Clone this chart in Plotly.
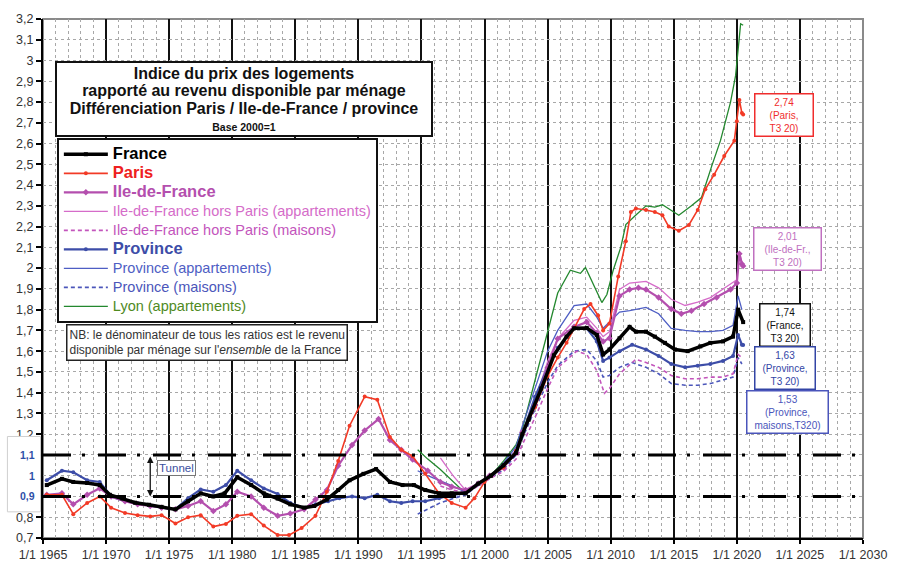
import plotly.graph_objects as go

FONT = "Liberation Sans, Arial, sans-serif"

# ---------------- data ----------------
france_x = [1965.3, 1966.5, 1967.4, 1968.5, 1969.5, 1970.3, 1971.3, 1972.3, 1973.4, 1974.4,
            1975.5, 1976.5, 1977.5, 1978.5, 1979.4, 1980.4, 1981.5, 1982.5, 1983.6, 1984.6,
            1985.7, 1986.5, 1987.5, 1988.4, 1989.3, 1990.4, 1991.4, 1992.5, 1993.5, 1994.4,
            1995.3, 1996.4, 1997.4, 1998.5, 1999.5, 2000.5, 2001.5, 2002.5, 2003.0, 2003.5,
            2004.5, 2005.5, 2006.5, 2007.1, 2008.1, 2008.9, 2009.4, 2009.9, 2010.7, 2011.5,
            2012.0, 2012.8, 2013.5, 2014.3, 2015.1, 2016.1, 2017.1, 2017.9, 2018.9, 2019.7,
            2020.1, 2020.5]
france_y = [0.955, 0.985, 0.97, 0.965, 0.955, 0.908, 0.89, 0.87, 0.86, 0.85,
            0.838, 0.877, 0.915, 0.90, 0.915, 0.993, 0.955, 0.915, 0.89, 0.862,
            0.846, 0.854, 0.885, 0.931, 0.978, 1.009, 1.032, 0.97, 0.955, 0.955,
            0.931, 0.915, 0.915, 0.915, 0.962, 1.0, 1.05, 1.11, 1.2, 1.27,
            1.42, 1.58, 1.67, 1.71, 1.712, 1.678, 1.584, 1.608, 1.662, 1.717,
            1.694, 1.694, 1.67, 1.64, 1.608, 1.60, 1.623, 1.64, 1.647, 1.67,
            1.80, 1.74]

paris_x = [1965.3, 1966.5, 1967.4, 1968.5, 1969.5, 1970.4, 1971.5, 1972.5, 1973.5, 1974.4,
           1975.5, 1976.5, 1977.5, 1978.5, 1979.5, 1980.4, 1981.5, 1982.5, 1983.6, 1984.5,
           1985.5, 1986.6, 1987.5, 1988.4, 1989.3, 1990.5, 1991.5, 1992.5, 1993.4, 1994.3,
           1995.3, 1996.4, 1997.4, 1998.5, 1999.2, 2000.0, 2000.5, 2001.5, 2002.5, 2003.0,
           2004.0, 2005.0, 2005.8, 2006.5, 2007.1, 2007.9, 2008.4, 2009.0, 2009.4, 2009.9,
           2010.6, 2011.2, 2011.6, 2012.0, 2012.8, 2013.5, 2014.1, 2014.6, 2015.4, 2016.2,
           2016.9, 2017.5, 2018.2, 2019.0, 2019.8, 2020.0, 2020.2, 2020.4, 2020.5]
paris_y = [0.908, 0.908, 0.815, 0.869, 0.90, 0.846, 0.82, 0.81, 0.804, 0.81,
           0.77, 0.80, 0.81, 0.755, 0.768, 0.807, 0.815, 0.76, 0.715, 0.714,
           0.748, 0.807, 0.923, 1.071, 1.241, 1.381, 1.366, 1.187, 1.125, 1.094,
           1.009, 0.915, 0.869, 0.846, 0.892, 0.97, 1.0, 1.04, 1.12, 1.2,
           1.33, 1.48, 1.569, 1.64, 1.71, 1.803, 1.827, 1.772, 1.70, 1.733,
           1.96, 2.13, 2.27, 2.287, 2.28, 2.27, 2.255, 2.2, 2.18, 2.208,
           2.28, 2.38, 2.45, 2.54, 2.614, 2.708, 2.81, 2.747, 2.74]

idf_x = [1965.3, 1966.5, 1967.4, 1968.5, 1969.5, 1970.4, 1971.5, 1972.5, 1973.5, 1974.4,
         1975.5, 1976.5, 1977.5, 1978.5, 1979.5, 1980.4, 1981.5, 1982.5, 1983.6, 1984.6,
         1985.7, 1986.6, 1987.5, 1988.4, 1989.5, 1990.5, 1991.6, 1992.5, 1993.4, 1994.3,
         1995.5, 1996.5, 1997.4, 1998.5, 1999.5, 2000.4, 2001.5, 2002.5, 2003.0, 2004.0,
         2005.0, 2005.8, 2007.1, 2008.1, 2008.9, 2009.4, 2009.9, 2010.7, 2011.5, 2012.2,
         2012.8, 2013.8, 2014.8, 2015.6, 2016.4, 2017.4, 2018.4, 2019.5, 2020.0, 2020.2,
         2020.4, 2020.5]
idf_y = [0.908, 0.915, 0.862, 0.908, 0.939, 0.90, 0.877, 0.862, 0.854, 0.846,
         0.838, 0.854, 0.877, 0.83, 0.862, 0.923, 0.90, 0.846, 0.807, 0.818,
         0.838, 0.885, 0.931, 1.048, 1.148, 1.218, 1.273, 1.172, 1.125, 1.078,
         1.024, 0.97, 0.947, 0.931, 0.962, 1.0, 1.04, 1.11, 1.209, 1.34,
         1.52, 1.66, 1.717, 1.74, 1.686, 1.647, 1.662, 1.866, 1.897, 1.905,
         1.897, 1.858, 1.803, 1.78, 1.795, 1.827, 1.858, 1.897, 1.928, 2.069,
         2.02, 2.01]

idf_appt_x = [1996.5, 1997.5, 1998.5, 1999.5, 2000.5, 2001.5, 2002.5, 2003.0, 2004.0, 2005.0,
              2005.8, 2007.1, 2008.1, 2008.9, 2009.4, 2009.9, 2010.7, 2011.5, 2012.8, 2013.8,
              2014.8, 2015.9, 2016.9, 2017.9, 2018.9, 2020.0, 2020.2, 2020.4]
idf_appt_y = [1.086, 1.0, 0.93, 0.96, 1.0, 1.05, 1.12, 1.2, 1.36, 1.55,
              1.66, 1.748, 1.764, 1.71, 1.67, 1.694, 1.897, 1.928, 1.936, 1.905,
              1.85, 1.82, 1.836, 1.858, 1.897, 1.944, 2.077, 2.03]

idf_mais_x = [1996.5, 1997.5, 1998.5, 1999.5, 2000.5, 2001.5, 2002.5, 2003.0, 2004.0, 2005.0,
              2005.8, 2007.3, 2008.1, 2008.9, 2009.5, 2009.9, 2010.7, 2012.0, 2012.8, 2013.8,
              2014.8, 2015.9, 2016.9, 2017.9, 2018.9, 2019.7, 2020.1, 2020.4]
idf_mais_y = [0.95, 0.93, 0.92, 0.95, 0.99, 1.02, 1.08, 1.15, 1.28, 1.42,
              1.52, 1.60, 1.584, 1.506, 1.397, 1.42, 1.491, 1.561, 1.545, 1.522,
              1.483, 1.467, 1.467, 1.475, 1.475, 1.491, 1.584, 1.569]

prov_x = [1965.3, 1966.5, 1967.4, 1968.5, 1969.5, 1970.4, 1971.5, 1972.5, 1973.5, 1974.4,
          1975.5, 1976.5, 1977.5, 1978.5, 1979.5, 1980.4, 1981.5, 1982.5, 1983.6, 1984.6,
          1985.7, 1986.6, 1987.6, 1988.5, 1989.5, 1990.5, 1991.5, 1992.5, 1993.4, 1994.3,
          1995.3, 1996.4, 1997.4, 1998.5, 1999.5, 2000.5, 2001.5, 2002.5, 2003.0, 2004.0,
          2005.0, 2005.8, 2007.1, 2008.1, 2008.9, 2009.4, 2009.9, 2010.7, 2011.7, 2012.8,
          2013.8, 2014.8, 2015.9, 2016.9, 2017.9, 2018.9, 2019.7, 2020.1, 2020.4, 2020.5]
prov_y = [0.978, 1.024, 1.017, 0.978, 0.97, 0.90, 0.877, 0.867, 0.854, 0.846,
          0.838, 0.892, 0.934, 0.923, 0.955, 1.024, 0.978, 0.939, 0.912, 0.869,
          0.846, 0.862, 0.877, 0.892, 0.90, 0.892, 0.908, 0.877, 0.869, 0.877,
          0.877, 0.892, 0.908, 0.915, 0.962, 1.0, 1.05, 1.12, 1.2, 1.38,
          1.52, 1.616, 1.71, 1.71, 1.647, 1.553, 1.569, 1.60, 1.631, 1.608,
          1.577, 1.538, 1.522, 1.53, 1.538, 1.553, 1.577, 1.678, 1.631, 1.63]

prov_appt_x = [1994.7, 1995.5, 1996.5, 1997.5, 1998.5, 1999.5, 2000.5, 2001.5, 2002.5, 2003.0,
               2004.0, 2005.0, 2005.8, 2007.1, 2008.1, 2008.9, 2009.4, 2009.9, 2010.7, 2011.5,
               2012.8, 2013.8, 2014.8, 2015.9, 2016.9, 2017.9, 2018.9, 2019.7, 2020.1, 2020.4]
prov_appt_y = [1.024, 1.0, 0.975, 0.95, 0.92, 0.96, 1.0, 1.06, 1.14, 1.24,
               1.42, 1.6, 1.70, 1.819, 1.827, 1.764, 1.71, 1.74, 1.788, 1.795,
               1.811, 1.78, 1.71, 1.70, 1.694, 1.694, 1.70, 1.725, 1.866, 1.80]

prov_mais_x = [1994.7, 1995.5, 1996.5, 1997.5, 1998.5, 1999.5, 2000.5, 2001.5, 2002.5, 2003.0,
               2004.0, 2005.0, 2005.8, 2007.1, 2008.1, 2008.9, 2009.4, 2009.9, 2010.7, 2011.7,
               2012.8, 2013.8, 2014.8, 2015.9, 2016.9, 2017.9, 2018.9, 2019.7, 2020.1, 2020.4]
prov_mais_y = [0.815, 0.84, 0.87, 0.89, 0.908, 0.955, 0.99, 1.03, 1.1, 1.18,
               1.32, 1.45, 1.53, 1.60, 1.608, 1.553, 1.475, 1.483, 1.522, 1.545,
               1.522, 1.491, 1.444, 1.436, 1.436, 1.444, 1.46, 1.475, 1.569, 1.538]

lyon_x = [1994.7, 1995.5, 1996.5, 1997.5, 1998.5, 1999.5, 2000.5, 2001.5, 2002.5, 2003.0,
          2004.5, 2005.8, 2006.8, 2007.6, 2008.0, 2008.6, 2009.3, 2009.7, 2010.2, 2010.8,
          2011.2, 2012.0, 2012.8, 2013.5, 2014.1, 2014.6, 2015.4, 2016.4, 2017.2, 2018.0,
          2018.7, 2019.5, 2019.9, 2020.2, 2020.3, 2020.5]
lyon_y = [1.125, 1.08, 1.03, 0.97, 0.915, 0.96, 1.0, 1.07, 1.15, 1.225,
          1.569, 1.88, 1.99, 1.975, 2.003, 1.928, 1.834, 1.873, 1.99, 2.1,
          2.21, 2.256, 2.30, 2.294, 2.305, 2.286, 2.255, 2.30, 2.34, 2.49,
          2.614, 2.80, 2.927, 3.114, 3.177, 3.17]

x_tick_vals = [1965, 1970, 1975, 1980, 1985, 1990, 1995, 2000, 2005, 2010, 2015, 2020, 2025, 2030]
x_tick_text = ["1/1 1965", "1/1 1970", "1/1 1975", "1/1 1980", "1/1 1985", "1/1 1990",
               "1/1 1995", "1/1 2000", "1/1 2005", "1/1 2010", "1/1 2015", "1/1 2020",
               "1/1 2025", "1/1 2030"]
y_tick_vals = [0.7, 0.8, 0.9, 1.0, 1.1, 1.2, 1.3, 1.4, 1.5, 1.6, 1.7, 1.8, 1.9, 2.0,
               2.1, 2.2, 2.3, 2.4, 2.5, 2.6, 2.7, 2.8, 2.9, 3.0, 3.1, 3.2]
y_tick_text = ["0,7", "0,8", "", "", "", "1,2", "1,3", "1,4", "1,5", "1,6", "1,7", "1,8",
               "1,9", "2", "2,1", "2,2", "2,3", "2,4", "2,5", "2,6", "2,7", "2,8", "2,9",
               "3", "3,1", "3,2"]
tunnel_vals = [1.1, 1.0, 0.9]
tunnel_text = ["1,1", "1", "0,9"]
tunnel_low, tunnel_high = 0.9, 1.1

# last-value labels: (text, x, y, colour, width)
end_labels = [
    ("2,74<br>(Paris,<br>T3 20)", 2023.7, 2.74, "#F02D2D", 53),
    ("2,01<br>(Ile-de-Fr.,<br>T3 20)", 2024.0, 2.094, "#C070C0", 62),
    ("1,74<br>(France,<br>T3 20)", 2023.8, 1.724, "#111111", 45),
    ("1,63<br>(Province,<br>T3 20)", 2023.8, 1.519, "#3345A5", 55),
    ("1,53<br>(Province,<br>maisons,T320)", 2024.0, 1.305, "#4A55BB", 76),
]

C_PARIS = "#F23A26"
C_IDF = "#B44FAE"
C_IDF_APPT = "#D56CC9"
C_IDF_MAIS = "#C355BC"
C_PROV = "#3D4DA8"
C_PROV_APPT = "#4E5EC4"
C_PROV_MAIS = "#4B56BA"
C_LYON = "#23882E"

fig = go.Figure()

def big(name, color):
    return f"<span style='font-size:16.5px;color:{color}'><b>{name}</b></span>"

def small(name, color):
    return f"<span style='font-size:14.5px;color:{color}'>{name}</span>"

# drawing order (France on top), legend order via legendrank
fig.add_trace(go.Scatter(x=lyon_x, y=lyon_y, mode="lines", name=small("Lyon (appartements)", "#4F8A1E"),
                         line=dict(color=C_LYON, width=1.3), legendrank=9))
fig.add_trace(go.Scatter(x=prov_mais_x, y=prov_mais_y, mode="lines", name=small("Province (maisons)", C_PROV_MAIS),
                         line=dict(color=C_PROV_MAIS, width=1.6, dash="4px,3px"), legendrank=8))
fig.add_trace(go.Scatter(x=idf_mais_x, y=idf_mais_y, mode="lines",
                         name=small("Ile-de-France hors Paris (maisons)", C_IDF_MAIS),
                         line=dict(color=C_IDF_MAIS, width=1.6, dash="4px,3px"), legendrank=5))
fig.add_trace(go.Scatter(x=prov_appt_x, y=prov_appt_y, mode="lines", name=small("Province (appartements)", C_PROV_APPT),
                         line=dict(color=C_PROV_APPT, width=1.3), legendrank=7))
fig.add_trace(go.Scatter(x=idf_appt_x, y=idf_appt_y, mode="lines",
                         name=small("Ile-de-France hors Paris (appartements)", C_IDF_APPT),
                         line=dict(color=C_IDF_APPT, width=1.3), legendrank=4))
fig.add_trace(go.Scatter(x=prov_x, y=prov_y, mode="lines+markers", name=big("Province", C_PROV),
                         line=dict(color=C_PROV, width=2.2), marker=dict(size=4, color=C_PROV), legendrank=6))
fig.add_trace(go.Scatter(x=idf_x, y=idf_y, mode="lines+markers", name=big("Ile-de-France", C_IDF),
                         line=dict(color=C_IDF, width=2.2), marker=dict(size=5, symbol="diamond", color=C_IDF),
                         legendrank=3))
fig.add_trace(go.Scatter(x=paris_x, y=paris_y, mode="lines+markers", name=big("Paris", "#EE2020"),
                         line=dict(color=C_PARIS, width=1.6), marker=dict(size=4, color=C_PARIS), legendrank=2))
fig.add_trace(go.Scatter(x=france_x, y=france_y, mode="lines+markers", name=big("France", "#000000"),
                         line=dict(color="#000000", width=3.5), marker=dict(size=4, symbol="square", color="#000"),
                         legendrank=1))

shapes = []
# plot frame (top/right), light grey
shapes.append(dict(type="rect", xref="paper", yref="paper", x0=0, x1=1, y0=0, y1=1,
                   line=dict(color="#8a8a8a", width=2), layer="below"))
# tunnel dash-dot lines
for v in (tunnel_high, tunnel_low):
    shapes.append(dict(type="line", xref="paper", yref="y", x0=0, x1=1, y0=v, y1=v,
                       line=dict(color="#000", width=3, dash="28px,11px,3px,13px"), layer="above"))
# box behind special tick labels
shapes.append(dict(type="rect", xref="paper", yref="y", x0=-0.0434, x1=-0.003, y0=0.826, y1=1.189,
                   line=dict(color="#cfcfcf", width=1), fillcolor="white", layer="above"))

annotations = []
# title box
annotations.append(dict(
    xref="paper", yref="paper", x=0.2449, y=0.8464, xanchor="center", yanchor="middle",
    text=("<span style='font-size:16px'><b>Indice du prix des logements</b></span><br>"
          "<span style='font-size:16px'><b>rapporté au revenu disponible par ménage</b></span><br>"
          "<span style='font-size:16px'><b>Différenciation Paris / Ile-de-France / province</b></span><br>"
          "<span style='font-size:10.5px'><b>Base 2000=1</b></span>"),
    showarrow=False, font=dict(family=FONT, size=13.5, color="#111"), align="center",
    bgcolor="white", bordercolor="#111", borderwidth=2, borderpad=1, width=372, height=70))
# NB box (placed just under the legend)
annotations.append(dict(
    xref="paper", yref="paper", x=0.2002, y=0.376, xanchor="center", yanchor="middle",
    text=("NB: le dénominateur de tous les ratios est le revenu<br>"
          "disponible par ménage sur l'<i>ensemble</i> de la France"),
    showarrow=False, font=dict(family=FONT, size=12, color="#333"), align="left",
    bgcolor="white", bordercolor="#222", borderwidth=1.5, borderpad=2))
# special tick labels
for v, t in zip(tunnel_vals, tunnel_text):
    annotations.append(dict(xref="paper", yref="y", x=-0.007, y=v, xanchor="right", yanchor="middle",
                            text=f"<b>{t}</b>", showarrow=False,
                            font=dict(family=FONT, size=10.5, color="#2E4FA8")))
# tunnel arrow
annotations.append(dict(xref="x", yref="y", x=1973.5, y=tunnel_low, axref="x", ayref="y",
                        ax=1973.5, ay=tunnel_high, text="", showarrow=True, arrowhead=2,
                        arrowside="end+start", arrowsize=1, arrowwidth=1.3, arrowcolor="#111"))
annotations.append(dict(xref="x", yref="y", x=1975.6, y=1.0375, text="Tunnel", showarrow=False,
                        font=dict(family=FONT, size=11.5, color="#3A4FA0"), bgcolor="white",
                        bordercolor="#777", borderwidth=1, borderpad=1))
# last-value labels
for t, xx, yy, col, w in end_labels:
    annotations.append(dict(xref="x", yref="y", x=xx, y=yy, text=t, showarrow=False,
                            font=dict(family=FONT, size=10, color=col), align="center",
                            bgcolor="white", bordercolor=col, borderwidth=1.5, borderpad=2, width=w))

fig.update_layout(
    width=899, height=574,
    margin=dict(l=43, r=27, t=16, b=21),
    paper_bgcolor="white", plot_bgcolor="white",
    font=dict(family=FONT, size=12, color="#333"),
    showlegend=True,
    legend=dict(x=0.0169, y=0.771, xanchor="left", yanchor="top",
                bgcolor="white", bordercolor="#111", borderwidth=2,
                font=dict(family=FONT, size=11, color="#333"),
                tracegroupgap=0, itemwidth=44, traceorder="normal"),
    shapes=shapes, annotations=annotations,
    xaxis=dict(range=[1965, 2030], tickmode="array", tickvals=x_tick_vals, ticktext=x_tick_text,
               showgrid=True, gridcolor="#111", gridwidth=1.5,
               minor=dict(dtick=1, tick0=1965, showgrid=True, gridcolor="#a8a8a8",
                          griddash="3px,3px", gridwidth=1),
               showline=True, linecolor="#000", linewidth=2,
               ticks="outside", ticklen=4, tickcolor="#000", tickwidth=1.5,
               tickfont=dict(family=FONT, size=12.5, color="#333"), zeroline=False),
    yaxis=dict(range=[0.7, 3.2], tickmode="array", tickvals=y_tick_vals, ticktext=y_tick_text,
               showgrid=True, gridcolor="#a8a8a8", griddash="3px,3px", gridwidth=1,
               showline=True, linecolor="#000", linewidth=2,
               ticks="outside", ticklen=5, tickcolor="#000", tickwidth=1.5,
               tickfont=dict(family=FONT, size=12.5, color="#333"), zeroline=False),
)

fig.write_html("out.html")
